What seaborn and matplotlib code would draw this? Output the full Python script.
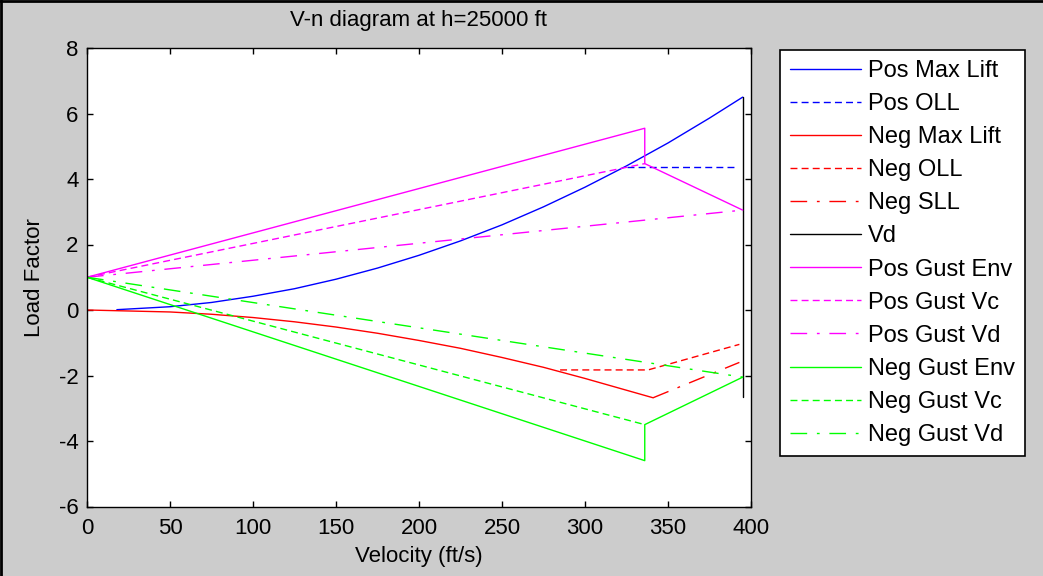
import matplotlib
matplotlib.use("Agg")
import matplotlib.pyplot as plt
import seaborn as sns
from matplotlib.lines import Line2D

# values (h = 25000 ft)
v_pos_lift = [18, 50, 75, 100, 125, 150, 175, 200, 225, 250, 275, 300, 325, 350, 375, 395]
n_pos_lift = [0.01, 0.10, 0.23, 0.42, 0.65, 0.94, 1.28, 1.67, 2.11, 2.60, 3.15, 3.75, 4.40, 5.10, 5.86, 6.50]
v_pos_oll = [325, 392]
n_pos_oll = [4.38, 4.38]
v_neg_lift = [0, 50, 75, 100, 125, 150, 175, 200, 225, 250, 275, 300, 325, 341]
n_neg_lift = [0, -0.06, -0.13, -0.23, -0.36, -0.52, -0.71, -0.93, -1.17, -1.45, -1.75, -2.09, -2.45, -2.68]
v_neg_oll = [285, 338, 393]
n_neg_oll = [-1.83, -1.83, -1.05]
v_neg_sll = [341, 393]
n_neg_sll = [-2.68, -1.6]
v_vd = [395, 395]
n_vd = [6.5, -2.65]
v_pos_gust_env = [0, 336, 336, 395]
n_pos_gust_env = [1, 5.55, 4.47, 3.05]
v_pos_gust_vc = [0, 336]
n_pos_gust_vc = [1, 4.47]
v_pos_gust_vd = [0, 395]
n_pos_gust_vd = [1, 3.05]
v_neg_gust_env = [0, 336, 336, 395]
n_neg_gust_env = [1, -4.6, -3.5, -2.05]
v_neg_gust_vc = [0, 336]
n_neg_gust_vc = [1, -3.5]
v_neg_gust_vd = [0, 395]
n_neg_gust_vd = [1, -2.05]

x_ticks = list(range(0, 401, 50))
y_ticks = list(range(-6, 9, 2))

sns.set_style("ticks")
plt.rcParams["font.family"] = ["Liberation Sans", "DejaVu Sans"]
plt.rcParams["font.size"] = 16
plt.rcParams["axes.unicode_minus"] = False
plt.rcParams["text.color"] = "black"
plt.rcParams["axes.labelcolor"] = "black"

DASH = (0, (5, 3))
DASHDOT = (0, (12, 7, 2, 7))

series = [
    ("Pos Max Lift", v_pos_lift, n_pos_lift, "#0000ff", "-"),
    ("Pos OLL", v_pos_oll, n_pos_oll, "#0000ff", DASH),
    ("Neg Max Lift", v_neg_lift, n_neg_lift, "#ff0000", "-"),
    ("Neg OLL", v_neg_oll, n_neg_oll, "#ff0000", DASH),
    ("Neg SLL", v_neg_sll, n_neg_sll, "#ff0000", DASHDOT),
    ("Vd", v_vd, n_vd, "#000000", "-"),
    ("Pos Gust Env", v_pos_gust_env, n_pos_gust_env, "#ff00ff", "-"),
    ("Pos Gust Vc", v_pos_gust_vc, n_pos_gust_vc, "#ff00ff", DASH),
    ("Pos Gust Vd", v_pos_gust_vd, n_pos_gust_vd, "#ff00ff", DASHDOT),
    ("Neg Gust Env", v_neg_gust_env, n_neg_gust_env, "#00ff00", "-"),
    ("Neg Gust Vc", v_neg_gust_vc, n_neg_gust_vc, "#00ff00", DASH),
    ("Neg Gust Vd", v_neg_gust_vd, n_neg_gust_vd, "#00ff00", DASHDOT),
]

fig = plt.figure(figsize=(10.43, 5.76), dpi=100, facecolor="#cccccc")
ax = fig.add_axes([87 / 1043, 1 - 506.5 / 576, 664 / 1043, 458.5 / 576])
ax.set_facecolor("white")

handles = []
for label, v, n, col, ls in series:
    sns.lineplot(x=v, y=n, ax=ax, color=col, linestyle=ls, linewidth=1.0,
                 sort=False, estimator=None, legend=False)
    handles.append(Line2D([], [], color=col, linestyle=ls, linewidth=1.0, label=label))

ax.set_xlim(0, 400)
ax.set_ylim(-6, 8)
ax.set_xticks(x_ticks)
ax.set_yticks(y_ticks)
ax.tick_params(direction="in", length=4, width=1, top=True, right=True,
               labelsize=16, colors="black")
ax.tick_params(axis="x", pad=8)
ax.tick_params(axis="y", pad=6)
for s in ax.spines.values():
    s.set_visible(True)
    s.set_color("black")
    s.set_linewidth(1.0)

ax.set_title("V-n diagram at h=25000 ft", fontsize=16, pad=16, color="black")
ax.set_xlabel("Velocity (ft/s)", fontsize=16, labelpad=5)
ax.set_ylabel("Load Factor", fontsize=16, labelpad=10)

leg = ax.legend(handles=handles, loc="upper left",
                bbox_to_anchor=(780 / 1043, 1 - 50 / 576),
                bbox_transform=fig.transFigure, borderaxespad=0,
                fontsize=17, frameon=True, fancybox=False,
                handlelength=3.0, handletextpad=0.3, labelspacing=0.47,
                borderpad=0.42)
leg.get_frame().set_edgecolor("black")
leg.get_frame().set_linewidth(1.2)
leg.get_frame().set_facecolor("white")
leg.get_frame().set_alpha(1)

# dark border on the left and top of the figure window
for xs, ys in [([0.001, 0.001], [0, 1]), ([0, 1], [0.998, 0.998])]:
    fig.add_artist(Line2D(xs, ys, transform=fig.transFigure, color="black", linewidth=2))

fig.savefig("out.png", dpi=100, facecolor=fig.get_facecolor())
